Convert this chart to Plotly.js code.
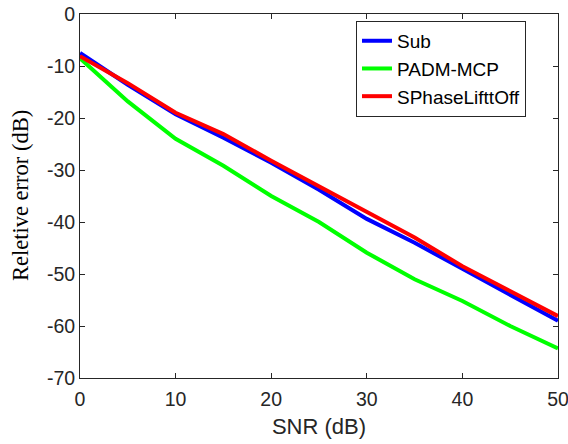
<!DOCTYPE html>
<html><head><meta charset="utf-8">
<script src="https://cdn.plot.ly/plotly-3.0.1.min.js"></script>
<style>body{margin:0;background:#fff}#chart{width:568px;height:444px}</style>
</head><body><div id="chart"></div>
<script>
const snr = [0, 5, 10, 15, 20, 25, 30, 35, 40, 45, 50];
const subErr = [-7.5, -13.6, -19.3, -23.8, -28.6, -33.8, -39.4, -44.0, -49.0, -53.9, -59.0];
const padmErr = [-8.5, -16.8, -24.0, -29.2, -35.0, -40.0, -45.9, -51.0, -55.2, -60.0, -64.3];
const sphaseErr = [-8.1, -13.3, -19.0, -23.1, -28.2, -33.2, -38.2, -43.0, -48.5, -53.3, -58.1];
const names = ['Sub', 'PADM-MCP', 'SPhaseLifttOff'];
const colors = ['#0000ff', '#00ff00', '#ff0000'];
const xTicks = [0, 10, 20, 30, 40, 50];
const yTicks = [0, -10, -20, -30, -40, -50, -60, -70];

const series = [subErr, padmErr, sphaseErr];
const data = series.map((y, i) => ({
  x: snr, y: y, type: 'scatter', mode: 'lines', name: names[i],
  line: {color: colors[i], width: 4}
}));

const tickFont = {family: 'Liberation Sans, Arial, sans-serif', size: 19.5, color: '#262626'};
const layout = {
  width: 568, height: 444,
  margin: {l: 80, r: 10, t: 14, b: 66},
  paper_bgcolor: '#fff', plot_bgcolor: '#fff',
  showlegend: true,
  legend: {x: 0.933, y: 0.981, xanchor: 'right', yanchor: 'top',
    bgcolor: '#fff', bordercolor: '#262626', borderwidth: 1,
    font: {family: 'Liberation Sans, Arial, sans-serif', size: 19, color: '#000'},
    itemwidth: 30, tracegroupgap: 0},
  xaxis: {
    range: [0, 50], tickvals: xTicks, ticktext: xTicks.map(String),
    ticks: 'inside', ticklen: 5, tickcolor: '#262626', mirror: 'ticks',
    showline: true, linecolor: '#262626', linewidth: 1, showgrid: false, zeroline: false,
    tickfont: tickFont, automargin: false, ticklabeloverflow: 'allow', ticklabelstandoff: 4,
    title: {text: 'SNR (dB)', font: {family: 'Liberation Sans, Arial, sans-serif', size: 22, color: '#262626'}, standoff: 9}
  },
  yaxis: {
    range: [-70, 0], tickvals: yTicks, ticktext: yTicks.map(String),
    ticks: 'inside', ticklen: 5, tickcolor: '#262626', mirror: 'ticks',
    showline: true, linecolor: '#262626', linewidth: 1, showgrid: false, zeroline: false,
    tickfont: tickFont, automargin: false, ticklabeloverflow: 'allow'
  },
  annotations: [{
    text: 'Reletive error (dB)', xref: 'paper', yref: 'paper',
    x: -0.1255, y: 0.5, xanchor: 'center', yanchor: 'middle', textangle: -90,
    showarrow: false,
    font: {family: 'Liberation Serif, Times New Roman, serif', size: 22.5, color: '#000'}
  }]
};
Plotly.newPlot('chart', data, layout, {displayModeBar: false, staticPlot: true});
</script></body></html>
